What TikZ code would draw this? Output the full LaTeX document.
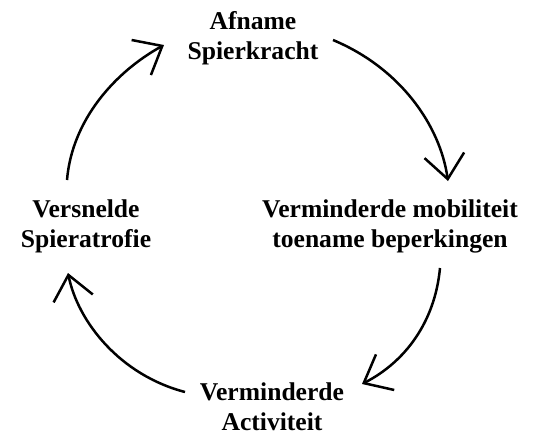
\documentclass[tikz,border=0pt]{standalone}
\usepackage{fontspec}
\setmainfont{Liberation Serif}
\usetikzlibrary{arrows.meta}
\begin{document}
\begin{tikzpicture}[x=0.5pt,y=-0.5pt,
  lbl/.style={align=center,font=\fontsize{12.8}{15}\selectfont\bfseries,inner sep=0pt},
  cyc/.style={line width=1.25pt,-{Straight Barb[length=12pt,width=20pt,line width=1.25pt]}}]
\useasboundingbox (0,0) rectangle (537,434);
\node[lbl] (top) at (253,38) {Afname\\Spierkracht};
\node[lbl] (right) at (390,226) {Verminderde mobiliteit\\toename beperkingen};
\node[lbl] (bottom) at (272,407) {Verminderde\\Activiteit};
\node[lbl] (left) at (86,226) {Versnelde\\Spieratrofie};
\coordinate (a1s) at (67,180); \coordinate (a1e) at (164,45);
\coordinate (a2s) at (333,40); \coordinate (a2e) at (448,181);
\coordinate (a3s) at (440,268); \coordinate (a3e) at (362,384);
\coordinate (a4s) at (185,392); \coordinate (a4e) at (68,273);
\draw[cyc] (a1s) .. controls (72,120) and (115,72) .. (a1e);
\draw[cyc] (a2s) .. controls (400,68) and (440,125) .. (a2e);
\draw[cyc] (a3s) .. controls (435,322) and (405,362) .. (a3e);
\draw[cyc] (a4s) .. controls (120,375) and (78,322) .. (a4e);
\end{tikzpicture}
\end{document}
